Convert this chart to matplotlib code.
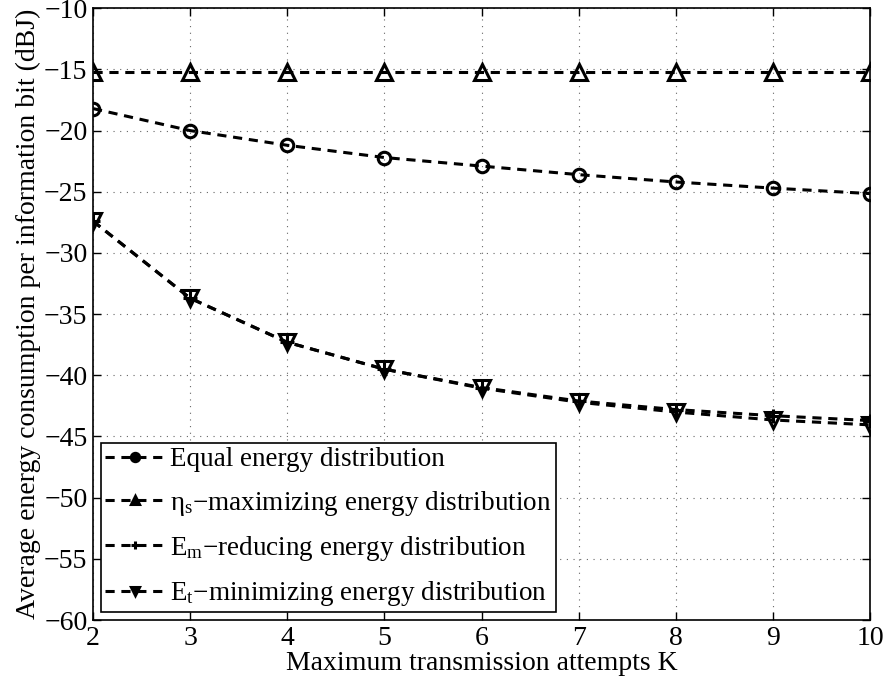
import numpy as np
import matplotlib
matplotlib.use("Agg")
import matplotlib.pyplot as plt

plt.rcParams['font.family'] = ['Liberation Serif', 'DejaVu Serif']
plt.rcParams['mathtext.fontset'] = 'custom'
plt.rcParams['mathtext.rm'] = 'Liberation Serif'
plt.rcParams['mathtext.it'] = 'Liberation Serif'

# Maximum transmission attempts
K = [2, 3, 4, 5, 6, 7, 8, 9, 10]

# Average energy per information bit (dBJ)
equal_dist = [-18.2, -20.0, -21.2, -22.2, -22.9, -23.6, -24.2, -24.7, -25.15]
eta_max_dist = [-15.2, -15.2, -15.2, -15.2, -15.2, -15.2, -15.2, -15.2, -15.2]
em_reduce_dist = [-27.4, -33.7, -37.3, -39.5, -41.0, -42.1, -42.8, -43.3, -43.7]
et_min_dist = [-27.4, -33.7, -37.3, -39.5, -41.05, -42.2, -43.0, -43.65, -44.05]

labels = [
    'Equal energy distribution',
    r'$\mathregular{\eta_s}$−maximizing energy distribution',
    r'$\mathregular{E_m}$−reducing energy distribution',
    r'$\mathregular{E_t}$−minimizing energy distribution',
]

fig = plt.figure(figsize=(8.86, 6.87), dpi=100)
ax = fig.add_axes([0.105, 0.0975, 0.877, 0.8905])

dash = (0, (3, 2.2))
common = dict(color='black', lw=2.2, linestyle=dash, mfc='none', mec='black', mew=2.2)
ax.plot(K, equal_dist, marker='o', ms=9, label=labels[0], **common)
ax.plot(K, eta_max_dist, marker='^', ms=11, label=labels[1], **common)
ax.plot(K, em_reduce_dist, marker='+', ms=10, label=labels[2], **common)
ax.plot(K, et_min_dist, marker='v', ms=11, label=labels[3], **common)

ax.set_xlim(2, 10)
ax.set_ylim(-60, -10)
ax.set_xticks(range(2, 11))
ax.set_yticks(range(-60, -9, 5))
ax.grid(True, color='0.4', linestyle=(0, (1, 5)), linewidth=0.8)
ax.tick_params(direction='in', top=True, right=True, labelsize=20, length=6, width=1, pad=4)
for s in ax.spines.values():
    s.set_linewidth(1.2)

ax.set_xlabel('Maximum transmission attempts K', fontsize=20, labelpad=0)
ax.set_ylabel('Average energy consumption per information bit (dBJ)', fontsize=20, labelpad=2)

leg = ax.legend(loc='lower left', bbox_to_anchor=(0.0103, 0.013), borderaxespad=0,
                fontsize=19.5, handlelength=2.2, handletextpad=0.2, labelspacing=0.6,
                borderpad=0.15, fancybox=False, framealpha=1)
leg.get_frame().set_edgecolor('black')
leg.get_frame().set_linewidth(1.2)
for h in leg.legend_handles:
    h.set_markersize(6)
    h.set_markerfacecolor('black')

fig.savefig('out.png', dpi=100)
